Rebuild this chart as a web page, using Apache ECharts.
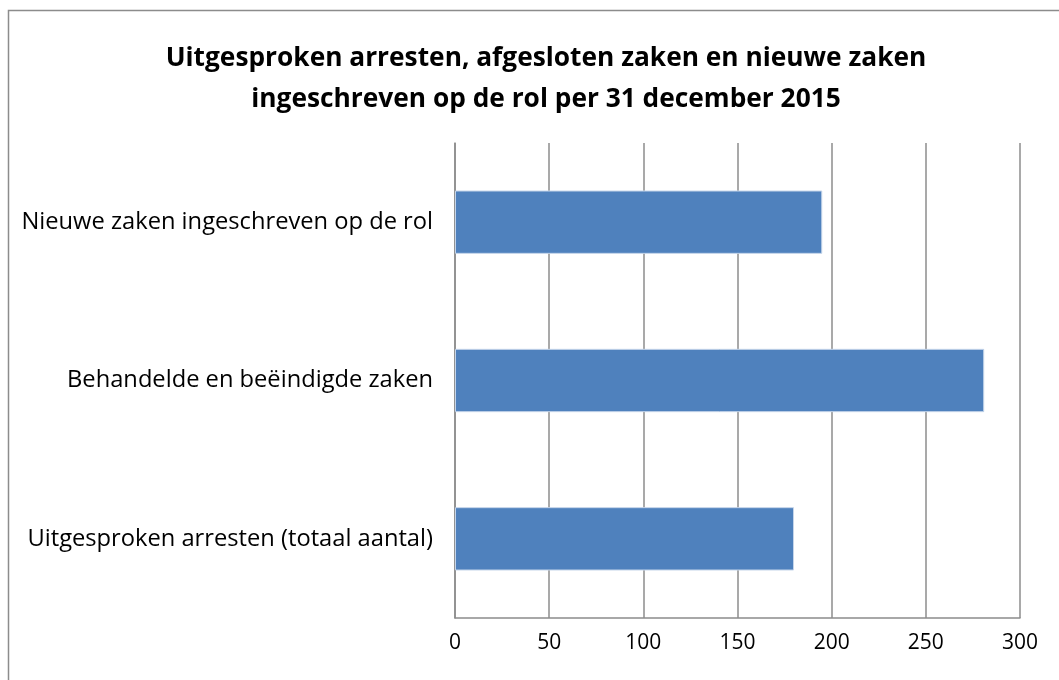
<!DOCTYPE html>
<html>
<head>
<meta charset="utf-8">
<script src="https://cdn.jsdelivr.net/npm/echarts@6/dist/echarts.min.js"></script>
<style>
  html, body { margin: 0; padding: 0; background: #fff; }
  #chart { width: 1059px; height: 680px; }
</style>
</head>
<body>
<div id="chart"></div>
<script>
// categories, bottom to top (as drawn on the y axis)
const categories = [
  "Uitgesproken arresten (totaal aantal)",
  "Behandelde en beëindigde zaken",
  "Nieuwe zaken ingeschreven op de rol"
];
const values = [180, 281, 195];
const titleLines = [
  "Uitgesproken arresten, afgesloten zaken en nieuwe zaken",
  "ingeschreven op de rol per 31 december 2015"
];

const chart = echarts.init(document.getElementById("chart"));
const font = "'Open Sans', sans-serif";

let option = {
  animation: false,
  title: {
    text: titleLines.join("\n"),
    left: 541,
    top: 33,
    textAlign: "center",
    textStyle: {
      fontFamily: font,
      fontSize: 26.3,
      fontWeight: "bold",
      color: "#000",
      lineHeight: 41
    }
  },
  graphic: [{
    type: "rect",
    shape: { x: 8.5, y: 10.5, width: 1200, height: 800 },
    style: { fill: "none", stroke: "#8c8c8c", lineWidth: 1.5 },
    silent: true
  }],
  grid: {
    left: 455,
    right: 39,
    top: 143,
    bottom: 62
  },
  xAxis: {
    type: "value",
    min: 0,
    max: 300,
    interval: 50,
    axisLine: { show: true, lineStyle: { color: "#8c8c8c", width: 1.5 } },
    axisTick: { show: false },
    axisLabel: {
      fontFamily: font,
      fontSize: 21,
      color: "#000",
      margin: 15
    },
    splitLine: {
      show: true,
      lineStyle: { color: "#8c8c8c", width: 1.5 }
    }
  },
  yAxis: {
    type: "category",
    data: categories,
    axisLine: { show: true, lineStyle: { color: "#8c8c8c", width: 1.5 } },
    axisTick: { show: false },
    axisLabel: {
      fontFamily: font,
      fontSize: 23.7,
      color: "#000",
      margin: 22
    }
  },
  series: [{
    type: "bar",
    data: values,
    barCategoryGap: "60%",
    itemStyle: {
      color: "#4f81bd",
      borderColor: "#c5d5ea",
      borderWidth: 1
    }
  }]
};

chart.setOption(option);
</script>
</body>
</html>
